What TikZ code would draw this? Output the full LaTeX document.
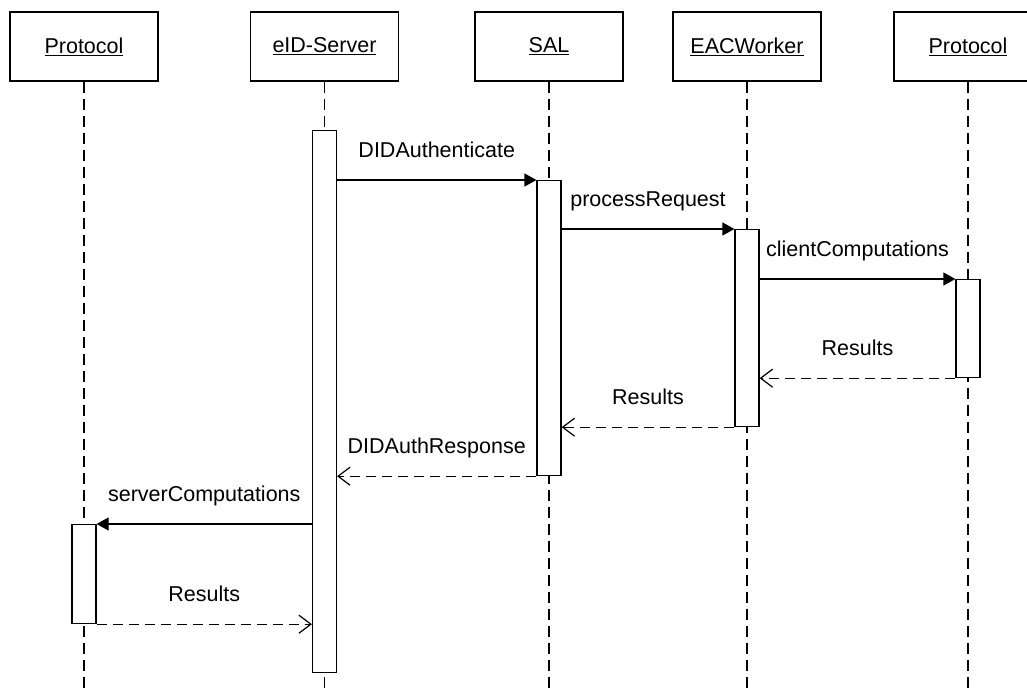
\documentclass[tikz,border=0pt]{standalone}
\usepackage{fontspec}
\setmainfont{Liberation Sans}
\usetikzlibrary{arrows.meta, positioning}
\tikzset{
    headnode/.style = {draw, rectangle, minimum width=148pt, minimum height=69pt, inner sep=0pt, 
      node distance=0em, font=\fontsize{21.5}{26}\selectfont},
    barnode/.style = {draw, rectangle, fill=white, minimum width=24pt, inner sep=0pt, anchor=north},
    textnode/.style = {draw=none, fill=none, rectangle, inner sep=0pt, anchor=base, yshift=23pt, 
      font=\fontsize{21.5}{26}\selectfont},
    lifeline/.style = {dash pattern=on 11pt off 6pt},
    call/.style = {-{Triangle[length=12pt, width=13pt]}},
    reply/.style = {dash pattern=on 10pt off 6pt, -{Straight Barb[length=12pt, width=18pt]}}
}

\begin{document}
\begin{tikzpicture}[x=1pt, y=1pt, line width=1.2pt]
    \useasboundingbox (0,0) rectangle (1027,-693);
    \clip (0,0) rectangle (1027,-693);
    \coordinate (bottom) at (0,-693);

    \node [name=p1, headnode] at (84,-46.5) {\underline{Protocol}};
    \node [name=eid, headnode, right of = p1, xshift=240.5pt] {\underline{eID-Server}};
    \node [name=sal, headnode, right of = p1, xshift=465pt] {\underline{SAL}};
    \node [name=eac, headnode, right of = p1, xshift=663pt] {\underline{EACWorker}};
    \node [name=p2, headnode, right of = p1, xshift=884pt] {\underline{Protocol}};

    \draw [lifeline] (p1.south) -- (p1.south |- bottom);
    \draw [lifeline] (eid.south) -- (eid.south |- bottom);
    \draw [lifeline] (sal.south) -- (sal.south |- bottom);
    \draw [lifeline] (eac.south) -- (eac.south |- bottom);
    \draw [lifeline] (p2.south) -- (p2.south |- bottom);

    \node [name=eidbar, barnode, minimum height=542pt] at (eid.south |- 0,-130) {};
    \node [name=salbar, barnode, minimum height=295pt] at (sal.south |- 0,-180) {};
    \node [name=eacbar, barnode, minimum height=197pt] at (eac.south |- 0,-229) {};
    \node [name=p2bar, barnode, minimum height=98pt] at (p2.south |- 0,-279) {};
    \node [name=p1bar, barnode, minimum height=99pt] at (p1.south |- 0,-524) {};

    \draw [call] (salbar.north west -| eidbar.east) -- node [textnode] {DIDAuthenticate} (salbar.north west);
    \draw [call] (eacbar.north west -| salbar.east) -- node [textnode] {processRequest} (eacbar.north west);
    \draw [call] (p2bar.north west -| eacbar.east) -- node [textnode] {clientComputations} (p2bar.north west);
    \draw [reply] (p2bar.south west) -- node [textnode] {Results} (p2bar.south west -| eacbar.east);
    \draw [reply] (eacbar.south west) -- node [textnode] {Results} (eacbar.south west -| salbar.east);
    \draw [reply] (salbar.south west) -- node [textnode] {DIDAuthResponse} (salbar.south west -| eidbar.east);
    \draw [call] (p1bar.north east -| eidbar.west) -- node [textnode] {serverComputations} (p1bar.north east);
    \draw [reply] (p1bar.south east) -- node [textnode] {Results} (p1bar.south east -| eidbar.west);
\end{tikzpicture}
\end{document}
